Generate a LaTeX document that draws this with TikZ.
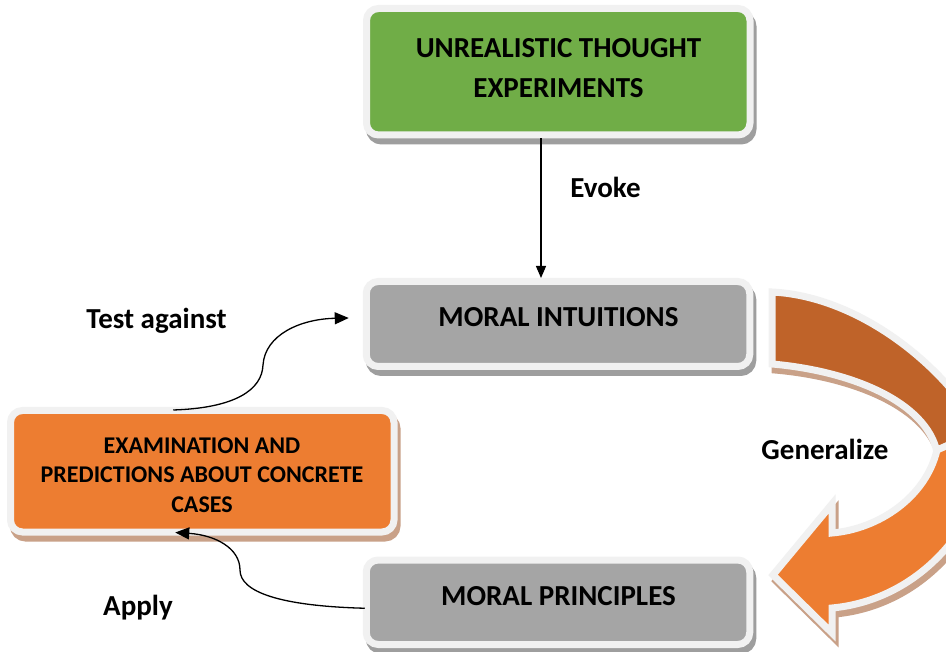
\documentclass[tikz,border=0pt]{standalone}
\usepackage{fontspec}
\setmainfont{Carlito}
\usetikzlibrary{arrows.meta,calc}

\definecolor{leaf}{RGB}{112,173,71}
\definecolor{slate}{RGB}{165,165,165}
\definecolor{amber}{RGB}{237,125,49}
\definecolor{rust}{RGB}{191,99,41}
\definecolor{rim}{RGB}{241,241,241}
\definecolor{greyshade}{RGB}{158,158,158}
\definecolor{tanshade}{RGB}{201,161,136}

\tikzset{
  shadowed/.style={preaction={draw=#1,fill=#1,line width=7pt,
      transform canvas={xshift=3pt,yshift=-6pt}}},
  card/.style={draw=rim,line width=7pt,rounded corners=12pt,inner sep=0pt,
      minimum width=383.5pt},
  cardtext/.style={font=\bfseries\fontsize{29}{40}\selectfont,align=center,inner sep=0pt},
  smalltext/.style={font=\bfseries\fontsize{24}{29.5}\selectfont,align=center,inner sep=0pt},
  tag/.style={font=\bfseries\fontsize{29}{34}\selectfont,inner sep=0pt,anchor=base},
  link/.style={line width=1.3pt,-{Triangle[width=12pt,length=14pt]}},
  band/.style={draw=rim,line width=7pt,line join=miter},
}

\begin{document}
\begin{tikzpicture}[x=1pt,y=-1pt]
  \useasboundingbox (0,0) rectangle (946,652);
  \fill[white] (0,0) rectangle (946,652);
  \clip (0,0) rectangle (946,652);

  % boxes
  \node[card,fill=leaf,shadowed=greyshade,minimum height=126.5pt] (thought) at (558.25,71.75) {};
  \node[card,fill=slate,shadowed=greyshade,minimum height=85pt] (intuitions) at (558,324) {};
  \node[card,fill=slate,shadowed=greyshade,minimum height=84.5pt] (principles) at (558,602.25) {};
  \node[card,fill=amber,shadowed=tanshade,minimum height=121.5pt] (exam) at (202.25,471.25) {};

  % curved "generalize" arrow: back half, then front half with head
  \path[band,fill=rust,shadowed=tanshade]
    (772,292) .. controls (872,297) and (969,387) .. (994,460)
    -- (937,452) .. controls (926,402) and (852,371) .. (772,364) -- cycle;
  \path[band,fill=amber,shadowed=tanshade]
    (994,425) .. controls (989,525) and (919,600) .. (832,608)
    -- (832,633) -- (773,575) -- (832,504) -- (832,533)
    .. controls (879,529) and (926,497) .. (937,450) -- cycle;

  % box texts
  \node[cardtext] (thoughtText) at (558.5,67.7) {UNREALISTIC THOUGHT\\EXPERIMENTS};
  \node[cardtext,anchor=base] (intuitionsText) at (558.5,327) {MORAL INTUITIONS};
  \node[cardtext,anchor=base] (principlesText) at (558.5,605) {MORAL PRINCIPLES};
  \node[smalltext] (examText) at (202,474.8) {EXAMINATION AND\\PREDICTIONS ABOUT CONCRETE\\CASES};

  % connector labels
  \node[tag] (evoke) at (605.5,198) {Evoke};
  \node[tag] (generalize) at (825,460) {Generalize};
  \node[tag] (testAgainst) at (156.5,329) {Test against};
  \node[tag] (apply) at (138,615) {Apply};

  % connectors
  \coordinate (evx) at (541,0);
  \draw[line width=1.2pt,-{Triangle[width=10pt,length=12pt]}]
    (thought.south -| evx) -- (intuitions.north -| evx);
  \draw[link] ($(exam.north)+(-29,3)$)
    .. controls (235,408) and (262,390) .. (263,365)
    .. controls (265,335) and (300,319) .. ($(intuitions.west)+(-14,-6)$);
  \draw[link] ($(principles.west)+(2,6)$)
    .. controls (280,606) and (240,592) .. (240,570)
    .. controls (240,548) and (215,535) .. ($(exam.south)+(-27,-3)$);
\end{tikzpicture}
\end{document}
